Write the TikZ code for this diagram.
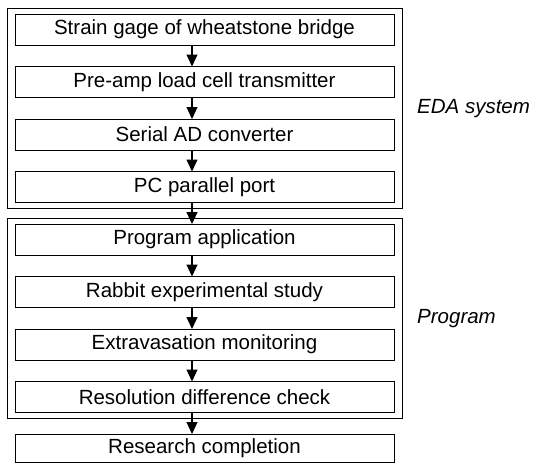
\documentclass[tikz,border=0pt]{standalone}
\usepackage{fontspec}
\setmainfont{Liberation Sans}
\usetikzlibrary{positioning,fit,arrows.meta}

\newcommand{\boxfont}{\fontsize{20.5}{24}\selectfont}

\tikzset{
    stage/.style={rectangle, draw, line width=1pt, minimum width=379pt, minimum height=31pt, inner sep=0, outer sep=0},
    group/.style={rectangle, draw, line width=1pt, inner xsep=8pt, inner ysep=6pt, outer sep=0},
    flow/.style={line width=1.1pt, -{Triangle[length=12pt,width=11pt]}},
    side/.style={anchor=west, inner sep=0, font=\boxfont\itshape}
}

\begin{document}
\begin{tikzpicture}[x=1pt, y=-1pt, node distance=21.5pt, font=\boxfont]
    \useasboundingbox (0,0) rectangle (533,464);
    % EDA system
    \node[stage] (b1) at (204.5,29.5) {Strain gage of wheatstone bridge};
    \node[stage, below=of b1] (b2) {Pre-amp load cell transmitter};
    \node[stage, below=of b2] (b3) {Serial AD converter};
    \node[stage, below=of b3] (b4) {PC parallel port};
    % program
    \node[stage, below=of b4] (b5) {Program application};
    \node[stage, below=of b5] (b6) {Rabbit experimental study};
    \node[stage, below=of b6] (b7) {Extravasation monitoring};
    \node[stage, below=of b7] (b8) {Resolution difference check};
    \node[stage, below=of b8, minimum height=28pt] (b9) {Research completion};

    \node[group, fit=(b1)(b4)] (eda) {};
    \node[group, fit=(b5)(b8)] (prog) {};
    \node[side] at ([xshift=15pt]eda.east) {EDA system};
    \node[side] at ([xshift=15pt]prog.east) {Program};

    \coordinate (ax) at (192,0);
    \foreach \a/\b in {b1/b2, b2/b3, b3/b4, b4/b5, b5/b6, b6/b7, b7/b8, b8/b9}
        \draw[flow] (\a.south -| ax) -- (\b.north -| ax);
\end{tikzpicture}
\end{document}
